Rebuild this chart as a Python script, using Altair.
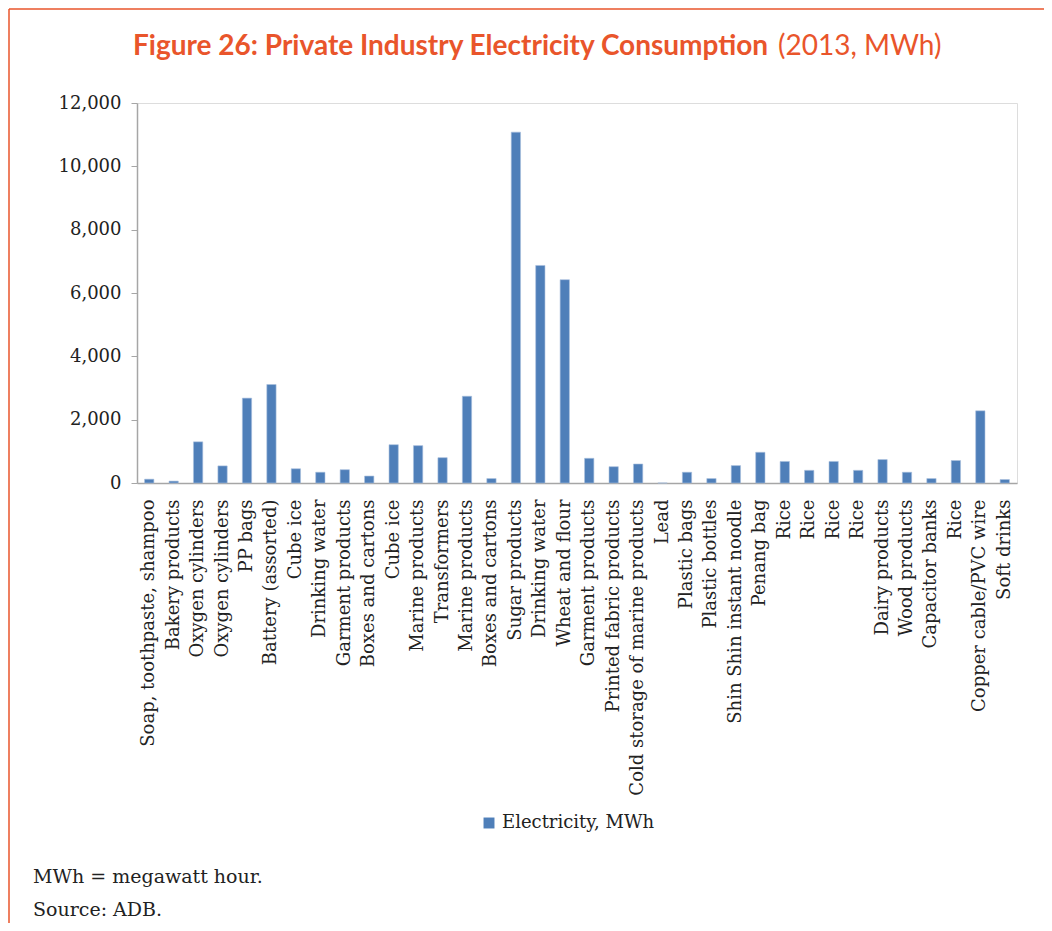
import altair as alt
import pandas as pd

categories = [
    "Soap, toothpaste, shampoo", "Bakery products", "Oxygen cylinders", "Oxygen cylinders",
    "PP bags", "Battery (assorted)", "Cube ice", "Drinking water", "Garment products",
    "Boxes and cartons", "Cube ice", "Marine products", "Transformers", "Marine products",
    "Boxes and cartons", "Sugar products", "Drinking water", "Wheat and flour",
    "Garment products", "Printed fabric products", "Cold storage of marine products", "Lead",
    "Plastic bags", "Plastic bottles", "Shin Shin instant noodle", "Penang bag", "Rice", "Rice",
    "Rice", "Rice", "Dairy products", "Wood products", "Capacitor banks", "Rice",
    "Copper cable/PVC wire", "Soft drinks",
]
values = [
    120, 60, 1300, 540, 2680, 3110, 450, 340, 420, 220, 1210, 1180, 800, 2740, 140,
    11080, 6870, 6420, 780, 515, 600, 0, 340, 140, 550, 970, 680, 400, 680, 400,
    740, 340, 140, 710, 2280, 110,
]
series_name = "Electricity, MWh"
y_ticks = [0, 2000, 4000, 6000, 8000, 10000, 12000]

df = pd.DataFrame({
    "idx": list(range(len(categories))),
    "cat": categories,
    "val": values,
    "series": [series_name] * len(categories),
})
label_expr = "[" + ",".join('"' + c + '"' for c in categories) + "][datum.value]"

ORANGE = "#E9552B"
SERIF = "DejaVu Serif"
GRAY = "#A6A6A6"
TXT = "#222222"

bars = alt.Chart(df).mark_bar(stroke="#A9C0DE", strokeWidth=0.6).encode(
    x=alt.X("idx:O", title=None,
            scale=alt.Scale(paddingInner=0.62, paddingOuter=0.31),
            axis=alt.Axis(labelExpr=label_expr, labelAngle=-90, labelAlign="right",
                          labelBaseline="middle", labelFont=SERIF, labelFontSize=18,
                          labelColor=TXT, labelPadding=16, ticks=False,
                          domainColor=GRAY, domainWidth=1.5, labelLimit=400)),
    y=alt.Y("val:Q", title=None,
            scale=alt.Scale(domain=[0, 12000], nice=False),
            axis=alt.Axis(values=y_ticks, format=",.0f", grid=False, labelFont=SERIF,
                          labelFontSize=18, labelColor=TXT, tickSize=6,
                          tickColor=GRAY, domainColor=GRAY, domainWidth=1.5,
                          labelPadding=10)),
    color=alt.Color("series:N", scale=alt.Scale(range=["#4F7FB9"]),
                    legend=alt.Legend(title=None, orient="none", legendX=343, legendY=711,
                                      symbolType="square", symbolSize=120,
                                      symbolStrokeWidth=0,
                                      labelFont=SERIF, labelFontSize=18,
                                      labelColor=TXT)),
)

one = pd.DataFrame({"a": [0]})

title_bold = alt.Chart(one).mark_text(
    text="Figure 26: Private Industry Electricity Consumption", font="Lato",
    fontWeight="bold", fontSize=28, color=ORANGE, align="left", baseline="middle"
).encode(x=alt.value(-4), y=alt.value(-56))

title_light = alt.Chart(one).mark_text(
    text="(2013, MWh)", font="Lato", fontWeight="normal", fontSize=28, color=ORANGE,
    align="left", baseline="middle"
).encode(x=alt.value(641), y=alt.value(-56))

foot1 = alt.Chart(one).mark_text(
    text="MWh = megawatt hour.", font=SERIF, fontSize=19, color=TXT,
    align="left", baseline="middle"
).encode(x=alt.value(-104), y=alt.value(774))

foot2 = alt.Chart(one).mark_text(
    text="Source: ADB.", font=SERIF, fontSize=19, color=TXT,
    align="left", baseline="middle"
).encode(x=alt.value(-104), y=alt.value(807))

frame_top = alt.Chart(one).mark_rule(color=ORANGE, strokeWidth=1.5).encode(
    x=alt.value(-128), x2=alt.value(907), y=alt.value(-94))
frame_left = alt.Chart(one).mark_rule(color=ORANGE, strokeWidth=1.5).encode(
    x=alt.value(-128), y=alt.value(-94), y2=alt.value(820))

chart = alt.layer(bars, title_bold, title_light, foot1, foot2, frame_top, frame_left).properties(
    width=880, height=380,
    autosize=alt.AutoSizeParams(type="none"),
    padding={"left": 129, "top": 95, "right": 27, "bottom": 440},
).configure_view(stroke=GRAY, strokeWidth=1.5).configure(background="white")

chart.save("out.html", embed_options={"renderer": "svg", "actions": False})
